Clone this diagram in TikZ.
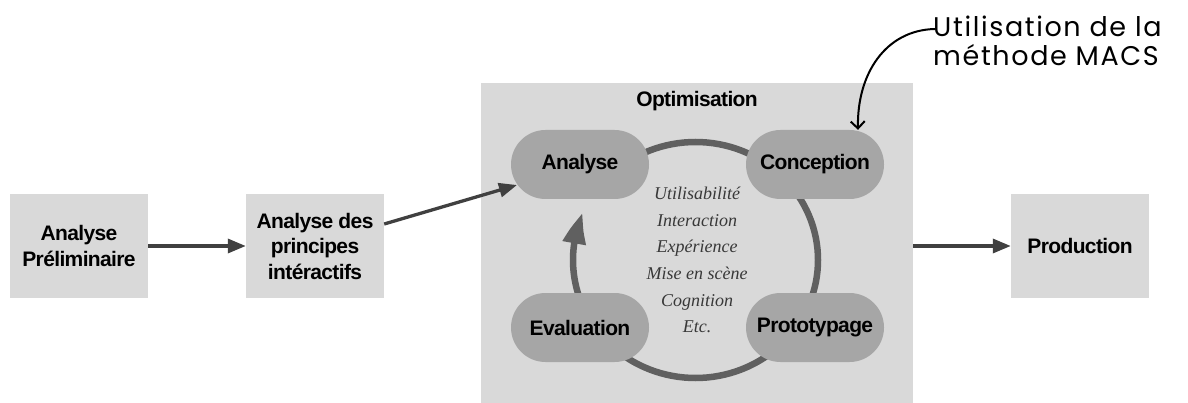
\documentclass[tikz,border=0pt]{standalone}
\usepackage{fontspec}
\setmainfont{Liberation Sans}
\newfontfamily\tightsans[LetterSpace=-3]{Liberation Sans}
\newfontfamily\itserif{Liberation Serif}
\newfontfamily\handfont[LetterSpace=6]{Poppins}
\usetikzlibrary{arrows.meta,bending,shapes.misc}
\definecolor{boxgray}{HTML}{D9D9D9}
\definecolor{pillgray}{HTML}{A6A6A6}
\definecolor{ringgray}{HTML}{606060}
\definecolor{arrgray}{HTML}{404040}
\definecolor{txtgray}{HTML}{383838}
\tikzset{
  bigbold/.style={font=\tightsans\bfseries\fontsize{21}{25.5}\selectfont},
  stagebox/.style={fill=boxgray, draw=none, minimum width=138pt, minimum height=104pt,
    align=center, bigbold, inner sep=0pt},
  pill/.style={fill=pillgray, draw=none, rounded rectangle, minimum width=138pt, minimum height=69pt,
    inner sep=0pt, bigbold},
  flow/.style={draw=arrgray, line width=3.3pt, -{Triangle[length=18pt,width=14pt]}},
  ring/.style={draw=ringgray, line width=6.5pt},
}
\begin{document}
\begin{tikzpicture}[x=1pt,y=-1pt]
\useasboundingbox (0,0) rectangle (1188,403);
% optimisation background
\node[fill=boxgray, draw=none, minimum width=432pt, minimum height=320pt, inner sep=0pt, anchor=north west] (opt) at (481,83) {};
\node[bigbold] (opttitle) at (697,101) {Optimisation};
% ring
\draw[ring, -{Triangle[length=32pt,width=22pt,bend]}] (695.5,260) ++(225:122.5 and 118)
  arc[start angle=225, end angle=563.5, x radius=122.5, y radius=118];
% pills
\node[pill] (ana) at (580,164.5) {Analyse};
\node[pill] (con) at (815,164.5) {Conception};
\node[pill] (eva) at (580,327.5) {Evaluation};
\node[pill] (pro) at (815,327.5) {Prototypage};
% center text
\node[align=center, text=txtgray, font=\itserif\itshape\fontsize{18}{26.7}\selectfont] (themes) at (697,260)
  {Utilisabilité\\Interaction\\Expérience\\Mise en scène\\Cognition\\Etc.};
% stage boxes
\node[stagebox] (pre) at (79,246) {Analyse\\Préliminaire};
\node[stagebox] (apr) at (315,246) {Analyse des\\principes\\intéractifs};
\node[stagebox] (prod) at (1080,246) {Production};
% flow arrows
\draw[flow] (pre.east) -- (apr.west);
\coordinate (anain) at (517,185);
\draw[flow] (apr.east |- 0,224) -- (anain);
\draw[flow] (opt.east |- prod.west) -- (prod.west);
% annotation
\node[anchor=north west, align=left, font=\handfont\fontsize{27}{29}\selectfont, inner sep=0pt] (note) at (933,16)
  {Utilisation de la\\méthode MACS};
\coordinate (notestart) at (935,29);
\draw[line width=2pt, line cap=round, -{Straight Barb[length=7pt,width=14pt]}]
  (notestart) .. controls (885,30) and (856,75) .. (con.north -| 858,0);
\end{tikzpicture}
\end{document}
